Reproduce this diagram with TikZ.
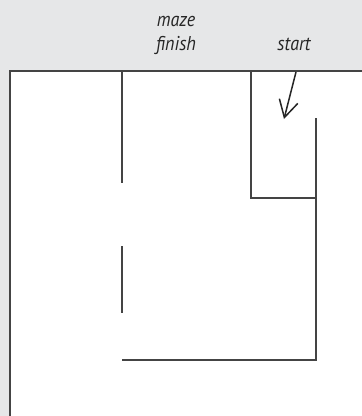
\documentclass[tikz,border=0pt]{standalone}
\usepackage{fontspec}
\newfontfamily\lblfont[FakeStretch=0.9]{PT Sans}
\usepackage{tikz}
\usetikzlibrary{arrows.meta}
\definecolor{panelgray}{HTML}{E6E7E8}
\definecolor{wallgray}{HTML}{444444}

\begin{document}
\begin{tikzpicture}[
  x=1pt, y=-1pt,
  lbl/.style={font=\lblfont\itshape\fontsize{20}{22}\selectfont, align=center, text=black!85, inner sep=0pt},
  wall/.style={draw=wallgray, line width=1.7pt},
  arr/.style={-{Straight Barb[length=17pt, width=19pt, line width=1.5pt]}, line width=1.5pt, draw=black!85}
]
  % background and board
  \fill[panelgray] (0,0) rectangle (362,416);
  \useasboundingbox (0,0) rectangle (362,416);
  \fill[white] (10,71) rectangle (362,416);
  \draw[wall] (362,71) -- (10,71) -- (10,416);

  % labels
  \node[lbl, anchor=base] (finish) at (176,50) {finish};
  \node[lbl, anchor=base] (maze)   at (176,26) {maze};
  \node[lbl, anchor=base] (start)  at (294,50) {start};

  % walls
  \draw[wall] (122,71) -- (122,183);
  \draw[wall] (122,246) -- (122,313);
  \draw[wall] (122,360) -- (316,360) -- (316,118);
  \draw[wall] (251,71) -- (251,198) -- (316,198);

  % entry arrow
  \coordinate (tail) at (296,72);
  \coordinate (head) at (284,119);
  \draw[arr] (tail) -- (head);
\end{tikzpicture}
\end{document}
